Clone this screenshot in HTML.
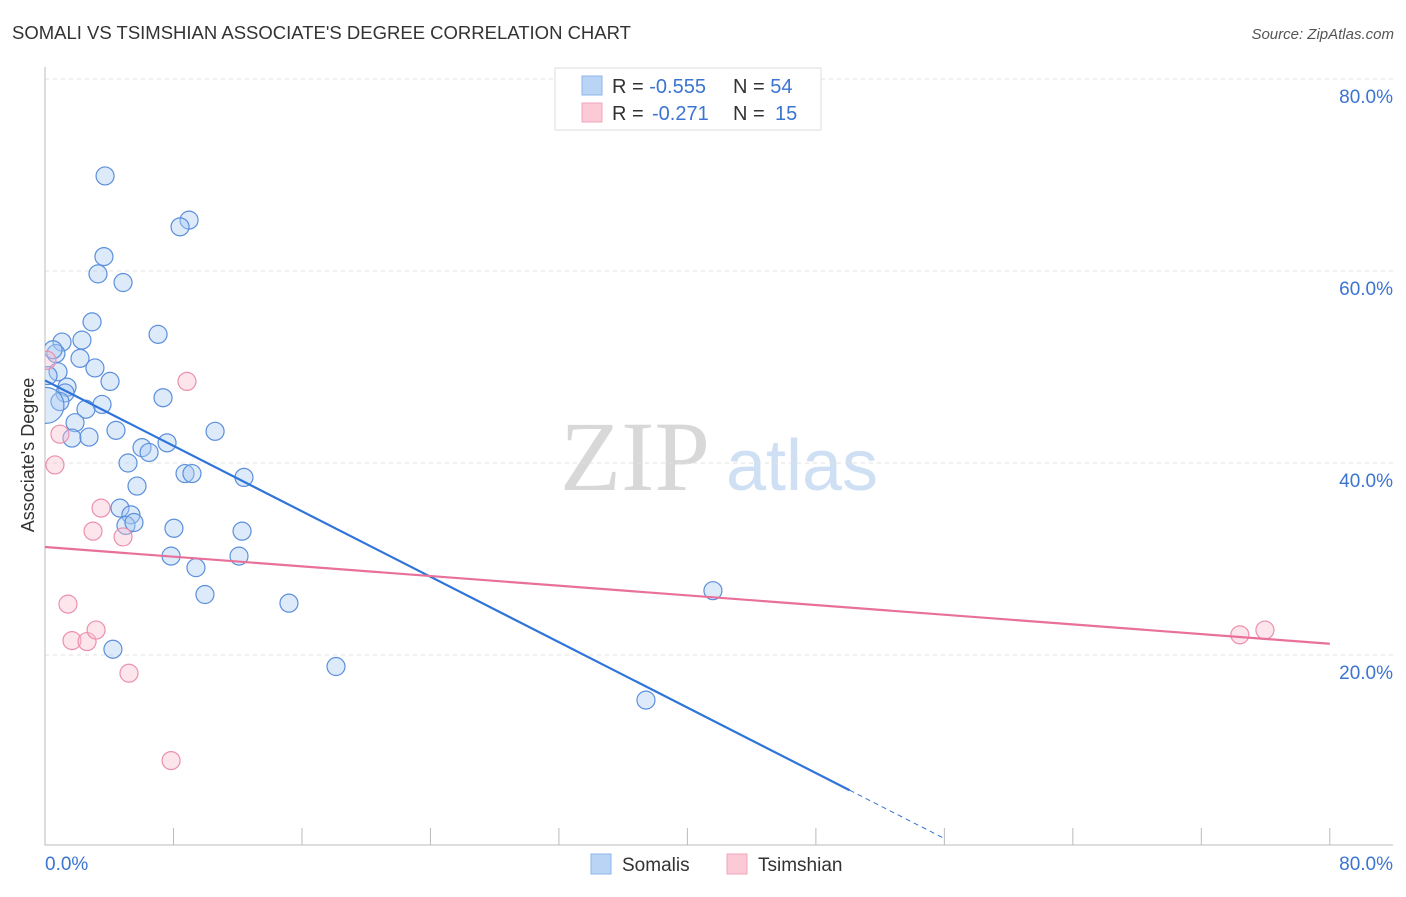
<!DOCTYPE html>
<html><head><meta charset="utf-8"><style>
body{margin:0;background:#fff;font-family:"Liberation Sans",sans-serif;}
</style></head><body>
<svg id="chart" width="1406" height="892" style="font-family:'Liberation Sans',sans-serif">
<defs><clipPath id="plotclip"><rect x="45" y="60" width="1360" height="785"/></clipPath></defs>
<text x="12" y="39" font-size="18.5" fill="#333">SOMALI VS TSIMSHIAN ASSOCIATE'S DEGREE CORRELATION CHART</text>
<text x="1394" y="39" font-size="15" fill="#555" font-style="italic" text-anchor="end">Source: ZipAtlas.com</text>
<g><text x="635" y="490" font-size="100" fill="#d8d8d8" style="font-family:'Liberation Serif',serif" text-anchor="middle">ZIP</text><text x="802" y="490" font-size="72" fill="#cfe0f5" text-anchor="middle">atlas</text></g>
<g id="grid"></g><g id="axes"></g><g id="pts" clip-path="url(#plotclip)"></g><g id="lines"></g>
<text transform="translate(34,455) rotate(-90)" font-size="18" fill="#333" text-anchor="middle">Associate's Degree</text>
<g>
<rect x="555" y="68" width="266" height="62" fill="#fff" stroke="#ddd"/>
<rect x="582" y="76" width="20" height="19" fill="#b9d4f5" stroke="#8db4e8"/>
<rect x="582" y="103" width="20" height="19" fill="#fcc9d7" stroke="#f0a6bb"/>
<text x="612" y="93" font-size="20" fill="#333">R = <tspan fill="#3b74d1">-0.555</tspan><tspan x="733">N = </tspan><tspan fill="#3b74d1">54</tspan></text>
<text x="612" y="120" font-size="20" fill="#333">R = <tspan fill="#3b74d1" x="652">-0.271</tspan><tspan x="733">N = </tspan><tspan fill="#3b74d1" x="775">15</tspan></text>
</g>
<g><rect x="591" y="854" width="20" height="20" fill="#b9d4f5" stroke="#8db4e8"/><text x="622" y="871" font-size="19" fill="#333">Somalis</text></g>
<g><rect x="727" y="854" width="20" height="20" fill="#fcc9d7" stroke="#f0a6bb"/><text x="758" y="871" font-size="19" fill="#333">Tsimshian</text></g>
</svg>
<script>
const yTicks=[20,40,60,80];
const yTickLabels=["20.0%","40.0%","60.0%","80.0%"];
const blueX=[3.74,8.97,8.41,3.67,3.30,4.86,2.93,7.04,1.06,2.30,0.68,2.18,3.11,0.81,4.05,1.37,1.25,7.35,3.55,2.55,1.87,1.68,2.74,4.42,10.59,7.60,6.04,6.48,5.17,8.72,9.15,12.39,5.73,4.67,5.35,5.04,5.54,8.03,12.27,7.85,12.08,9.40,9.96,15.19,41.59,4.23,18.12,37.42,0.5,0.93,0.19,0.06];
const blueY=[69.9,65.3,64.6,61.5,59.7,58.8,54.7,53.4,52.6,52.8,51.4,50.9,49.9,49.5,48.5,47.9,47.3,46.8,46.1,45.6,44.2,42.6,42.7,43.4,43.3,42.1,41.6,41.1,40.0,38.9,38.9,38.5,37.6,35.3,34.6,33.5,33.8,33.2,32.9,30.3,30.3,29.1,26.3,25.4,26.7,20.6,18.8,15.3,51.8,46.4,49.1,46.0];
const blueR=[9,9,9,9,9,9,9,9,9,9,9,9,9,9,9,9,9,9,9,9,9,9,9,9,9,9,9,9,9,9,9,9,9,9,9,9,9,9,9,9,9,9,9,9,9,9,9,9,9,9,9,18];
const pinkX=[0.12,8.84,0.93,0.62,3.49,2.99,4.86,1.43,1.68,2.62,3.18,5.23,7.85,74.4,75.96];
const pinkY=[50.7,48.5,43.0,39.8,35.3,32.9,32.3,25.3,21.5,21.4,22.6,18.1,9.0,22.1,22.6];
const blueFit=[48.6,-0.852];
const pinkFit=[31.25,-0.126];
const X=v=>45+v*16.06, Y=v=>847-v*9.6;
const NS="http://www.w3.org/2000/svg";
function mk(p,t,a){const e=document.createElementNS(NS,t);for(const k in a)e.setAttribute(k,a[k]);document.getElementById(p).appendChild(e);return e;}
yTicks.forEach((t,i)=>{
 const g=mk('grid','line',{x1:45,x2:1393,y1:Y(t),y2:Y(t),stroke:'#e2e2e2','stroke-dasharray':'4,4'});
 
 
 const l=mk('axes','text',{x:1393,y:Y(t)+24,'font-size':19,fill:'#3b74d1','text-anchor':'end'});
 l.textContent=yTickLabels[i];
 
 
});
const ax=mk('axes','path',{d:'M45,67V845H1393',fill:'none',stroke:'#bbb'});


for(let i=0;i<=10;i++){const t=mk('axes','line',{x1:X(i*8),x2:X(i*8),y1:828,y2:845,stroke:'#bbb'});
 
 }
const x0=mk('axes','text',{x:45,y:870,'font-size':19,fill:'#3b74d1'});x0.textContent='0.0%';


const x1=mk('axes','text',{x:1393,y:870,'font-size':19,fill:'#3b74d1','text-anchor':'end'});x1.textContent='80.0%';


blueX.forEach((v,i)=>{const c=mk('pts','circle',{cx:X(v),cy:Y(blueY[i]),r:blueR[i],fill:'rgba(170,202,242,0.4)',stroke:'#5b8fdc','stroke-width':1.2});
 
 });
pinkX.forEach((v,i)=>{const c=mk('pts','circle',{cx:X(v),cy:Y(pinkY[i]),r:9,fill:'rgba(250,190,208,0.4)',stroke:'#eb90ae','stroke-width':1.2});
 
 });
const bEnd=50.1, bStop=56.0;
const bl=mk('lines','line',{x1:X(0),y1:Y(blueFit[0]),x2:X(bEnd),y2:Y(blueFit[0]+blueFit[1]*bEnd),stroke:'#2f74d9','stroke-width':2.2});


const bd=mk('lines','line',{x1:X(bEnd),y1:Y(blueFit[0]+blueFit[1]*bEnd),x2:X(bStop),y2:Y(Math.max(0,blueFit[0]+blueFit[1]*bStop)),stroke:'#2f74d9','stroke-width':1,'stroke-dasharray':'5,4'});


const pl=mk('lines','line',{x1:X(0),y1:Y(pinkFit[0]),x2:X(80),y2:Y(pinkFit[0]+pinkFit[1]*80),stroke:'#e8709a','stroke-width':2.2});


</script>
</body></html>
